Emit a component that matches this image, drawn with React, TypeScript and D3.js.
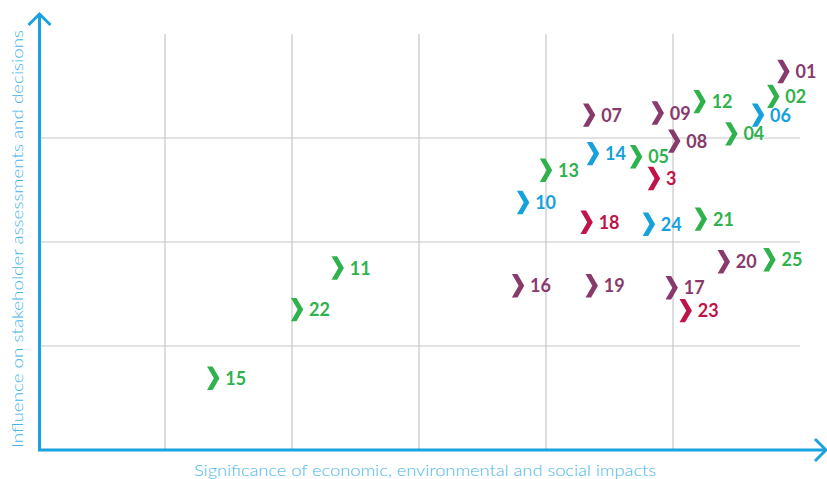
import React from "react";
import * as d3 from "d3";

// Material topics: id, significance of impacts (x), influence on stakeholders (y), group
const topicIds = ["01", "02", "06", "12", "09", "07", "04", "08", "14", "05", "13", "3", "10", "18", "24", "21", "20", "25", "16", "19", "17", "23", "11", "22", "15"];
const significance = [5.87, 5.79, 5.67, 5.21, 4.88, 4.34, 5.46, 5.01, 4.37, 4.71, 4.0, 4.85, 3.82, 4.32, 4.81, 5.22, 5.4, 5.76, 3.78, 4.36, 4.99, 5.1, 2.36, 2.04, 1.38];
const influence = [3.64, 3.4, 3.22, 3.35, 3.24, 3.22, 3.04, 2.97, 2.85, 2.82, 2.69, 2.61, 2.38, 2.19, 2.17, 2.22, 1.81, 1.83, 1.58, 1.58, 1.56, 1.34, 1.75, 1.35, 0.69];
const groups = ["plum", "green", "blue", "green", "plum", "plum", "green", "plum", "blue", "green", "green", "crimson", "blue", "crimson", "blue", "green", "plum", "green", "plum", "plum", "plum", "crimson", "green", "green", "green"];

const groupColors: Record<string, string> = {
  plum: "#873a6b",
  green: "#2fb24c",
  blue: "#15a1dc",
  crimson: "#c0134a",
};

const xTicks = [1, 2, 3, 4, 5];
const yTicks = [1, 2, 3];

const W = 827;
const H = 479;
const left = 38;
const right = 800;
const top = 34;
const bottom = 450;
const axisColor = "#19a2dd";
const labelColor = "#47b6e6";

export default function App() {
  const x = d3.scaleLinear().domain([0, 6]).range([left, right]);
  const y = d3.scaleLinear().domain([0, 4]).range([bottom, top]);

  // chevron marker, centred on the point
  const chevron = (cx: number, cy: number) =>
    d3.line()([
      [cx - 6.2, cy - 11.7],
      [cx - 0.6, cy - 11.7],
      [cx + 6.2, cy],
      [cx - 0.6, cy + 11.7],
      [cx - 6.2, cy + 11.7],
      [cx + 0.6, cy],
    ]) + "Z";

  return (
    <svg
      width={W}
      height={H}
      style={{ position: "absolute", left: 0, top: 0, background: "#fff" }}
    >
      {/* grid */}
      <g stroke="#c6c6c8" strokeWidth={1.2}>
        {xTicks.map((t) => (
          <line key={"v" + t} x1={x(t)} x2={x(t)} y1={top} y2={bottom} />
        ))}
        {yTicks.map((t) => (
          <line key={"h" + t} x1={left} x2={right} y1={y(t)} y2={y(t)} />
        ))}
      </g>

      {/* axes with open arrowheads */}
      <g stroke={axisColor} strokeWidth={3} fill="none" strokeLinecap="butt">
        <polyline points={`39.5,14 39.5,450 825,450`} strokeLinejoin="miter" />
        <polyline points={`28.5,25 39.5,14 50.5,25`} strokeLinejoin="miter" />
        <polyline points={`815,439 826,450 815,461`} strokeLinejoin="miter" />
      </g>

      {/* axis titles */}
      <text
        x={425}
        y={476}
        textAnchor="middle"
        fontFamily="Lato, 'Open Sans', sans-serif"
        fontWeight={300}
        fontSize={16}
        fill={labelColor}
        textLength={462}
        lengthAdjust="spacingAndGlyphs"
      >
        Significance of economic, environmental and social impacts
      </text>
      <text
        transform="translate(23,239) rotate(-90)"
        textAnchor="middle"
        fontFamily="Lato, 'Open Sans', sans-serif"
        fontWeight={300}
        fontSize={16}
        fill={labelColor}
        textLength={418}
        lengthAdjust="spacingAndGlyphs"
      >
        Influence on stakeholder assessments and decisions
      </text>

      {/* topic markers */}
      {topicIds.map((id, i) => {
        const cx = x(significance[i]);
        const cy = y(influence[i]);
        const color = groupColors[groups[i]];
        return (
          <g key={id}>
            <path d={chevron(cx, cy)} fill={color} />
            <text
              x={cx + 12}
              y={cy + 6.5}
              fill={color}
              fontFamily="Lato, 'Open Sans', sans-serif"
              fontWeight={700}
              fontSize={18}
            >
              {id}
            </text>
          </g>
        );
      })}
    </svg>
  );
}
